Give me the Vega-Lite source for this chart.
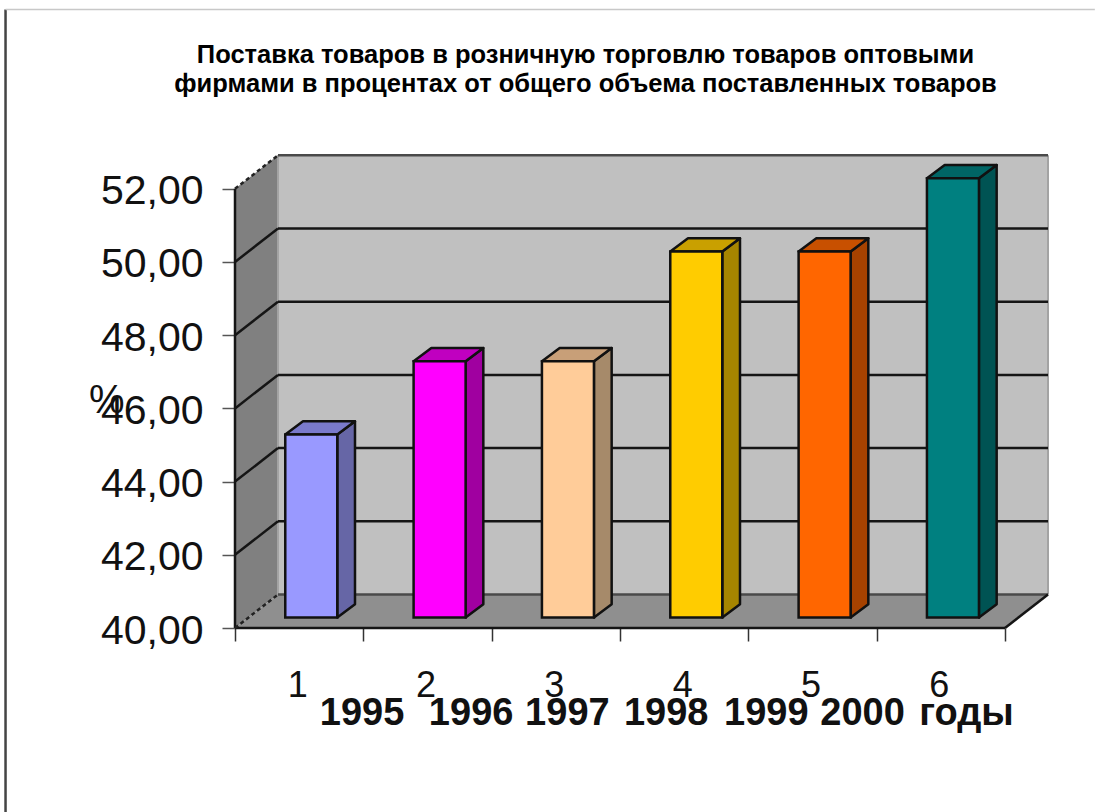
{
"$schema":"https://vega.github.io/schema/vega-lite/v6.json",
"width":813,"height":472,
"autosize":"none",
"padding":{"left":235,"top":156,"right":47,"bottom":184},
"background":"white",
"title":{"text":["Поставка товаров в розничную торговлю товаров оптовыми","фирмами в процентах от общего объема поставленных товаров"],"font":"Liberation Sans","fontWeight":"bold","fontSize":25.5,"lineHeight":29,"color":"#000000","anchor":"middle","dx":-56,"offset":-89},
"config":{"view":{"stroke":null},"font":"Liberation Sans"},
"datasets":{
"walls":[
{"part":"back wall","x":0.835,"low":40.915,"high":52.915},{"part":"back wall","x":6.835,"low":40.915,"high":52.915},
{"part":"side wall","x":0.5,"low":40,"high":52},{"part":"side wall","x":0.835,"low":40.915,"high":52.915},
{"part":"floor","x":0.5,"low":40,"high":40},{"part":"floor","x":0.835,"low":40,"high":40.915},{"part":"floor","x":6.5,"low":40,"high":40.915},{"part":"floor","x":6.835,"low":40.915,"high":40.915}
],
"solid":[
{"x":0.835,"x2":6.835,"y":42.915,"y2":42.915},{"x":0.835,"x2":6.835,"y":44.915,"y2":44.915},{"x":0.835,"x2":6.835,"y":46.915,"y2":46.915},{"x":0.835,"x2":6.835,"y":48.915,"y2":48.915},{"x":0.835,"x2":6.835,"y":50.915,"y2":50.915},
{"x":0.5,"x2":0.835,"y":42,"y2":42.915},{"x":0.5,"x2":0.835,"y":44,"y2":44.915},{"x":0.5,"x2":0.835,"y":46,"y2":46.915},{"x":0.5,"x2":0.835,"y":48,"y2":48.915},{"x":0.5,"x2":0.835,"y":50,"y2":50.915},
{"x":0.5,"x2":6.5,"y":40,"y2":40},{"x":6.5,"x2":6.835,"y":40,"y2":40.915},{"x":0.5,"x2":0.5,"y":40,"y2":52}
],
"dashed":[{"x":0.5,"x2":0.835,"y":52,"y2":52.915},{"x":0.5,"x2":0.835,"y":40,"y2":40.915}],
"dim":[{"x":0.835,"x2":6.835,"y":52.915,"y2":52.915},{"x":0.835,"x2":6.835,"y":40.915,"y2":40.915}],
"faint":[{"x":6.835,"x2":6.835,"y":40.915,"y2":52.915},{"x":0.835,"x2":0.835,"y":40.915,"y2":52.915}],
"sheet":[{"x":-1.288,"y":34.97,"y2":56.9}],
"sheetTop":[{"x":-1.288,"x2":7.2,"y":56.9}],
"faces":[
{"part":"side 1","x":1.297,"low":40.287,"high":45.287},{"part":"side 1","x":1.435,"low":40.651,"high":45.651},
{"part":"top 1","x":0.892,"low":45.287,"high":45.287},{"part":"top 1","x":1.03,"low":45.287,"high":45.651},{"part":"top 1","x":1.297,"low":45.287,"high":45.651},{"part":"top 1","x":1.435,"low":45.651,"high":45.651},
{"part":"side 2","x":2.297,"low":40.287,"high":47.287},{"part":"side 2","x":2.435,"low":40.651,"high":47.651},
{"part":"top 2","x":1.892,"low":47.287,"high":47.287},{"part":"top 2","x":2.03,"low":47.287,"high":47.651},{"part":"top 2","x":2.297,"low":47.287,"high":47.651},{"part":"top 2","x":2.435,"low":47.651,"high":47.651},
{"part":"side 3","x":3.297,"low":40.287,"high":47.287},{"part":"side 3","x":3.435,"low":40.651,"high":47.651},
{"part":"top 3","x":2.892,"low":47.287,"high":47.287},{"part":"top 3","x":3.03,"low":47.287,"high":47.651},{"part":"top 3","x":3.297,"low":47.287,"high":47.651},{"part":"top 3","x":3.435,"low":47.651,"high":47.651},
{"part":"side 4","x":4.297,"low":40.287,"high":50.287},{"part":"side 4","x":4.435,"low":40.651,"high":50.651},
{"part":"top 4","x":3.892,"low":50.287,"high":50.287},{"part":"top 4","x":4.03,"low":50.287,"high":50.651},{"part":"top 4","x":4.297,"low":50.287,"high":50.651},{"part":"top 4","x":4.435,"low":50.651,"high":50.651},
{"part":"side 5","x":5.297,"low":40.287,"high":50.287},{"part":"side 5","x":5.435,"low":40.651,"high":50.651},
{"part":"top 5","x":4.892,"low":50.287,"high":50.287},{"part":"top 5","x":5.03,"low":50.287,"high":50.651},{"part":"top 5","x":5.297,"low":50.287,"high":50.651},{"part":"top 5","x":5.435,"low":50.651,"high":50.651},
{"part":"side 6","x":6.297,"low":40.287,"high":52.287},{"part":"side 6","x":6.435,"low":40.651,"high":52.651},
{"part":"top 6","x":5.892,"low":52.287,"high":52.287},{"part":"top 6","x":6.03,"low":52.287,"high":52.651},{"part":"top 6","x":6.297,"low":52.287,"high":52.651},{"part":"top 6","x":6.435,"low":52.651,"high":52.651}
],
"bars":[
{"n":1,"year":"1995","value":45,"part":"front 1","label":"1"},
{"n":2,"year":"1996","value":47,"part":"front 2","label":"2"},
{"n":3,"year":"1997","value":47,"part":"front 3","label":"3"},
{"n":4,"year":"1998","value":50,"part":"front 4","label":"4"},
{"n":5,"year":"1999","value":50,"part":"front 5","label":"5"},
{"n":6,"year":"2000","value":52,"part":"front 6","label":"6"}
],
"yearLabels":[
{"x":1.49,"y":37.66,"t":"1995"},{"x":2.34,"y":37.66,"t":"1996"},{"x":3.09,"y":37.66,"t":"1997"},{"x":3.86,"y":37.66,"t":"1998"},{"x":4.64,"y":37.66,"t":"1999"},{"x":5.39,"y":37.66,"t":"2000"},{"x":6.2,"y":37.66,"t":"годы"}
],
"unit":[{"x":-0.5,"y":46.2,"t":"%"}]
},
"layer":[
{"data":{"name":"walls"},"mark":{"type":"area","stroke":null},
 "encoding":{
  "x":{"field":"x","type":"quantitative","scale":{"domain":[0.5,6.835],"nice":false,"zero":false,"padding":0},"axis":{"values":[0.5,1.5,2.5,3.5,4.5,5.5,6.5],"labels":false,"title":null,"domain":false,"grid":false,"tickSize":13,"tickColor":"#333333","tickWidth":1.5}},
  "y":{"field":"low","type":"quantitative","scale":{"domain":[40,52.896],"nice":false,"zero":false,"padding":0},"axis":{"values":[40,42,44,46,48,50,52],"title":null,"domain":false,"grid":false,"tickSize":13,"tickColor":"#555555","tickWidth":1.5,"labelFontSize":41,"labelFont":"Liberation Sans","labelColor":"#111111","labelPadding":19,"labelOffset":3,"labelExpr":"replace(format(datum.value,'.2f'),'.',',')"}},
  "y2":{"field":"high"},
  "color":{"field":"part","type":"nominal","legend":null,"scale":{"domain":["back wall","side wall","floor","side 1","top 1","front 1","side 2","top 2","front 2","side 3","top 3","front 3","side 4","top 4","front 4","side 5","top 5","front 5","side 6","top 6","front 6"],"range":["#c0c0c0","#808080","#8f8f8f","#6666a6","#7a7acc","#9999ff","#a000a0","#c000c0","#ff00ff","#a68a6a","#c89f78","#ffcc99","#a68500","#c9a000","#ffcc00","#a64200","#c85000","#ff6600","#005353","#006565","#008080"]}}
 }},
{"data":{"name":"faint"},"mark":{"type":"rule","color":"#a3a3a3","strokeWidth":2},"encoding":{"x":{"field":"x","type":"quantitative"},"x2":{"field":"x2"},"y":{"field":"y","type":"quantitative"},"y2":{"field":"y2"}}},
{"data":{"name":"dim"},"mark":{"type":"rule","color":"#4a4a4a","strokeWidth":2.5},"encoding":{"x":{"field":"x","type":"quantitative"},"x2":{"field":"x2"},"y":{"field":"y","type":"quantitative"},"y2":{"field":"y2"}}},
{"data":{"name":"solid"},"mark":{"type":"rule","color":"#151515","strokeWidth":2.5},"encoding":{"x":{"field":"x","type":"quantitative"},"x2":{"field":"x2"},"y":{"field":"y","type":"quantitative"},"y2":{"field":"y2"}}},
{"data":{"name":"dashed"},"mark":{"type":"rule","color":"#222222","strokeWidth":2.5,"strokeDash":[4,3]},"encoding":{"x":{"field":"x","type":"quantitative"},"x2":{"field":"x2"},"y":{"field":"y","type":"quantitative"},"y2":{"field":"y2"}}},
{"data":{"name":"sheet"},"mark":{"type":"rule","color":"#444444","strokeWidth":2.5},"encoding":{"x":{"field":"x","type":"quantitative"},"y":{"field":"y","type":"quantitative"},"y2":{"field":"y2"}}},
{"data":{"name":"sheetTop"},"mark":{"type":"rule","color":"#c8c8c8","strokeWidth":1.5},"encoding":{"x":{"field":"x","type":"quantitative"},"x2":{"field":"x2"},"y":{"field":"y","type":"quantitative"}}},
{"data":{"name":"faces"},"mark":{"type":"area","stroke":"#111111","strokeWidth":2.5,"strokeJoin":"round"},
 "encoding":{
  "x":{"field":"x","type":"quantitative"},
  "y":{"field":"low","type":"quantitative"},
  "y2":{"field":"high"},
  "color":{"field":"part","type":"nominal"}
 }},
{"data":{"name":"bars"},"mark":{"type":"bar","width":52,"xOffset":12.1,"yOffset":-10.5,"y2Offset":-10.5,"stroke":"#111111","strokeWidth":2.5},
 "encoding":{
  "x":{"field":"n","type":"quantitative"},
  "y":{"field":"value","type":"quantitative"},
  "y2":{"datum":40},
  "color":{"field":"part","type":"nominal"}
 }},
{"data":{"name":"bars"},"mark":{"type":"text","fontSize":36,"font":"Liberation Sans","color":"#111111","baseline":"middle","dx":-1.5},
 "encoding":{
  "x":{"field":"n","type":"quantitative"},
  "y":{"datum":38.42,"type":"quantitative"},
  "text":{"field":"label"}
 }},
{"data":{"name":"yearLabels"},"mark":{"type":"text","fontSize":38,"fontWeight":"bold","font":"Liberation Sans","color":"#111111","baseline":"middle"},
 "encoding":{
  "x":{"field":"x","type":"quantitative"},
  "y":{"field":"y","type":"quantitative"},
  "text":{"field":"t"}
 }},
{"data":{"name":"unit"},"mark":{"type":"text","fontSize":40,"font":"Liberation Sans","color":"#111111","baseline":"middle"},
 "encoding":{
  "x":{"field":"x","type":"quantitative"},
  "y":{"field":"y","type":"quantitative"},
  "text":{"field":"t"}
 }}
]
}
